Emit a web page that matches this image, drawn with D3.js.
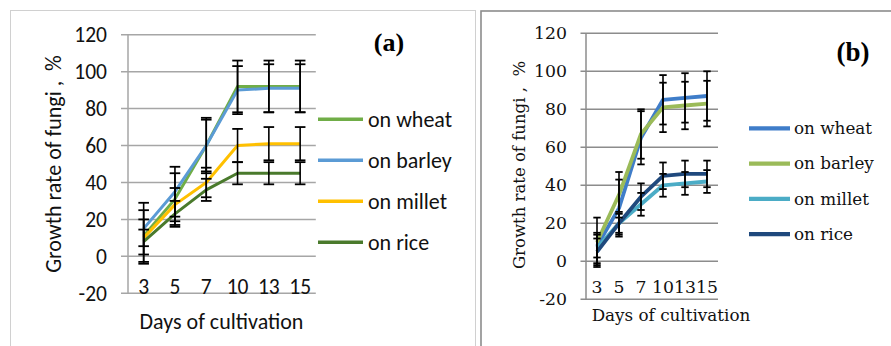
<!DOCTYPE html>
<html>
<head>
<meta charset="utf-8">
<script src="https://cdn.jsdelivr.net/npm/d3@7"></script>
<style>
  body { margin: 0; background: #fff; }
  svg { display: block; }
</style>
</head>
<body>
<div id="chart"></div>
<script>
// categories / ticks
var days = ["3", "5", "7", "10", "13", "15"];
var seriesNames = ["on wheat", "on barley", "on millet", "on rice"];
var yTicks = [-20, 0, 20, 40, 60, 80, 100, 120];

// panel (a) values and error sizes
var aWheat = [11, 31, 60, 92, 92, 92];
var aWheatErr = [14, 14, 14, 14, 14, 14];
var aBarley = [15, 35, 60, 90, 91, 91];
var aBarleyErr = [14, 13.5, 15, 13, 13, 13];
var aMillet = [10, 28, 40, 60, 61, 61];
var aMilletErr = [4.5, 9, 8, 9, 9, 9];
var aRice = [8, 23, 36, 45, 45, 45];
var aRiceErr = [12, 7, 6, 6, 6, 6];

// panel (b) values and error sizes
var bWheat = [8, 28, 65, 85, 86, 87];
var bWheatErr = [6, 15, 14, 13, 13, 13];
var bBarley = [10, 35, 67, 81, 82, 83];
var bBarleyErr = [13, 12, 13, 13, 12.5, 12];
var bMillet = [7, 20, 30, 40, 41, 42];
var bMilletErr = [8, 6, 6, 6, 6, 6];
var bRice = [5, 20, 34, 45, 46, 46];
var bRiceErr = [7, 5, 7, 7, 7, 7];

var W = 891, H = 346;
var svg = d3.select("#chart").append("svg").attr("width", W).attr("height", H);

// panel frames
svg.append("rect").attr("x", 10.5).attr("y", 10.5).attr("width", 465).attr("height", 360)
    .attr("fill", "none").attr("stroke", "#d0d0d0").attr("stroke-width", 1);
svg.append("rect").attr("x", 481).attr("y", 11).attr("width", 430).attr("height", 360)
    .attr("fill", "none").attr("stroke", "#8c8c8c").attr("stroke-width", 1.6);

function drawPanel(p) {
    var g = svg.append("g");

    var x = d3.scaleBand().domain(days).range([p.axisX, p.axisX + p.band * days.length]).padding(0);
    var y = d3.scaleLinear().domain([-20, 120]).range([p.yBottom, p.yTop]);

    // gridlines
    g.selectAll(".grid").data(yTicks).enter().append("line")
        .attr("x1", p.axisX - p.tickOut).attr("x2", x.range()[1])
        .attr("y1", function(d) { return y(d); }).attr("y2", function(d) { return y(d); })
        .attr("stroke", p.gridColor).attr("stroke-width", 1.5);

    // vertical axis line
    g.append("line").attr("x1", p.axisX).attr("x2", p.axisX)
        .attr("y1", y(120)).attr("y2", y(-20))
        .attr("stroke", p.gridColor).attr("stroke-width", 1.5);

    // y tick labels
    g.selectAll(".ylab").data(yTicks).enter().append("text")
        .attr("x", p.yLabelX).attr("y", function(d) { return y(d); })
        .attr("dy", "0.35em").attr("text-anchor", "end")
        .style("font-family", p.font).style("font-size", p.fontSize + "px").attr("fill", "#111")
        .text(function(d) { return d; });

    // x tick labels
    g.selectAll(".xlab").data(days).enter().append("text")
        .attr("x", function(d) { return x(d) + x.bandwidth() / 2; })
        .attr("y", p.xLabelY).attr("dy", "0.35em").attr("text-anchor", "middle")
        .style("font-family", p.font).style("font-size", p.fontSize + "px").attr("fill", "#111")
        .text(function(d) { return d; });

    // axis titles
    g.append("text").attr("x", p.xTitle[0]).attr("y", p.xTitle[1]).attr("dy", "0.35em")
        .attr("text-anchor", "middle")
        .style("font-family", p.font).style("font-size", p.titleSize + "px").attr("fill", "#111")
        .text("Days of cultivation");
    g.append("text")
        .attr("transform", "translate(" + p.yTitle[0] + "," + p.yTitle[1] + ") rotate(-90)")
        .attr("dy", "0.35em").attr("text-anchor", "middle")
        .style("font-family", p.font).style("font-size", p.yTitleSize + "px")
        .style("white-space", "pre").attr("fill", "#111")
        .text("Growth rate of fungi ,  %");

    var line = d3.line()
        .x(function(d, i) { return x(days[i]) + x.bandwidth() / 2; })
        .y(function(d) { return y(d); });

    p.series.forEach(function(s) {
        g.append("path").datum(s.values)
            .attr("d", line).attr("fill", "none")
            .attr("stroke", s.color).attr("stroke-width", p.lineWidth)
            .attr("stroke-linejoin", "round");
    });

    // error bars
    p.series.forEach(function(s) {
        var eb = g.selectAll(null).data(s.values).enter().append("g")
            .attr("transform", function(d, i) { return "translate(" + (x(days[i]) + x.bandwidth() / 2) + ",0)"; });
        eb.append("line")
            .attr("y1", function(d, i) { return y(d - s.err[i]); })
            .attr("y2", function(d, i) { return y(d + s.err[i]); })
            .attr("stroke", "#000").attr("stroke-width", 1.6);
        eb.append("line").attr("x1", -p.cap).attr("x2", p.cap)
            .attr("y1", function(d, i) { return y(d + s.err[i]); })
            .attr("y2", function(d, i) { return y(d + s.err[i]); })
            .attr("stroke", "#000").attr("stroke-width", 1.8);
        eb.append("line").attr("x1", -p.cap).attr("x2", p.cap)
            .attr("y1", function(d, i) { return y(d - s.err[i]); })
            .attr("y2", function(d, i) { return y(d - s.err[i]); })
            .attr("stroke", "#000").attr("stroke-width", 1.8);
    });

    // legend
    var lg = g.selectAll(".leg").data(p.series).enter().append("g")
        .attr("transform", function(d, i) { return "translate(0," + (p.legendTop + i * p.legendStep) + ")"; });
    lg.append("line").attr("x1", p.legendX[0]).attr("x2", p.legendX[1])
        .attr("stroke", function(d) { return d.color; }).attr("stroke-width", p.lineWidth + 0.5);
    lg.append("text").attr("x", p.legendX[2]).attr("dy", "0.35em")
        .style("font-family", p.font).style("font-size", p.legendSize + "px").attr("fill", "#111")
        .text(function(d) { return d.name; });

    // panel tag
    g.append("text").attr("x", p.tag[0]).attr("y", p.tag[1]).attr("dy", "0.35em")
        .attr("text-anchor", "middle")
        .style("font-family", "'Liberation Serif', 'Times New Roman', serif")
        .style("font-weight", "bold").style("font-size", p.tagSize + "px").attr("fill", "#000")
        .text(p.tagText);
}

drawPanel({
    axisX: 128, band: 31.3, tickOut: 7, yTop: 34.7, yBottom: 293.3,
    gridColor: "#a6a6a6",
    font: "Carlito, Calibri, Lato, sans-serif", fontSize: 21.5, titleSize: 22, yTitleSize: 22,
    legendSize: 22,
    yLabelX: 107, xLabelY: 286, xTitle: [221.5, 321], yTitle: [53, 164],
    lineWidth: 3, cap: 5.3,
    legendTop: 119.3, legendStep: 41, legendX: [318, 363, 368],
    tag: [389, 42], tagSize: 26, tagText: "(a)",
    series: [
        { name: seriesNames[0], values: aWheat, err: aWheatErr, color: "#70ad47" },
        { name: seriesNames[1], values: aBarley, err: aBarleyErr, color: "#5b9bd5" },
        { name: seriesNames[2], values: aMillet, err: aMilletErr, color: "#ffc000" },
        { name: seriesNames[3], values: aRice, err: aRiceErr, color: "#4a7a2c" }
    ]
});

drawPanel({
    axisX: 586, band: 22, tickOut: 5.5, yTop: 33.3, yBottom: 299.3,
    gridColor: "#8c8c8c",
    font: "'DejaVu Serif', Cambria, serif", fontSize: 17.3, titleSize: 16.8, yTitleSize: 16.5,
    legendSize: 16.8,
    yLabelX: 567, xLabelY: 287, xTitle: [671, 315], yTitle: [519, 165],
    lineWidth: 3.8, cap: 3.7,
    legendTop: 128.3, legendStep: 35.3, legendX: [749, 790, 794],
    tag: [853, 52], tagSize: 27, tagText: "(b)",
    series: [
        { name: seriesNames[0], values: bWheat, err: bWheatErr, color: "#3f7dc9" },
        { name: seriesNames[1], values: bBarley, err: bBarleyErr, color: "#9bbb59" },
        { name: seriesNames[2], values: bMillet, err: bMilletErr, color: "#4bacc6" },
        { name: seriesNames[3], values: bRice, err: bRiceErr, color: "#1f497d" }
    ]
});
</script>
</body>
</html>
